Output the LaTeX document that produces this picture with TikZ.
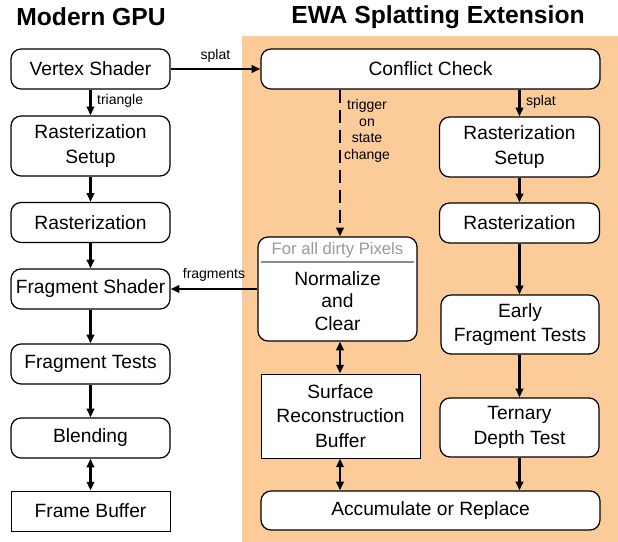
\documentclass[tikz,border=0pt]{standalone}
\usepackage{fontspec}
\setmainfont{Liberation Sans}
\usetikzlibrary{arrows.meta}
\definecolor{panel}{HTML}{FBCB99}
\definecolor{hdrgray}{HTML}{999999}
\begin{document}
\begin{tikzpicture}[x=0.75pt,y=-0.75pt,
  box/.style={draw=black,line width=0.9pt,fill=white,rounded corners=7.5pt,align=center,
    font=\fontsize{14.4}{18.5}\selectfont,inner sep=0pt,minimum width=119.25pt,minimum height=30pt},
  sqbox/.style={box,rounded corners=0pt,line width=0.75pt},
  flow/.style={line width=2pt,-{Triangle[length=6.5pt,width=5.5pt]}},
  bflow/.style={line width=2pt,{Triangle[length=6.5pt,width=5.5pt]}-{Triangle[length=6.5pt,width=5.5pt]}},
  lbl/.style={font=\fontsize{10.5}{12.5}\selectfont,inner sep=1pt,align=center},
  ttl/.style={font=\fontsize{18.5}{22}\selectfont\bfseries}]
\useasboundingbox (0,0) rectangle (618,542);
\fill[panel] (242,36) rectangle (618,542);
\node[ttl] (t1) at (91,17) {Modern GPU};
\node[ttl] (t2) at (438,17) {EWA Splatting Extension};
% left column
\node[box] (vs) at (90.5,69) {Vertex Shader};
\node[box,minimum height=45pt] (rs) at (90.5,146) {Rasterization\\Setup};
\node[box] (ra) at (90.5,222.5) {Rasterization};
\node[box] (fs) at (90.5,289) {Fragment Shader};
\node[box] (ft) at (90.5,364) {Fragment Tests};
\node[box] (bl) at (90.5,438) {Blending};
\node[sqbox] (fb) at (90.5,511) {Frame Buffer};
% right part
\node[box,minimum width=254.25pt] (cc) at (430.5,69) {Conflict Check};
\node[box,minimum height=45pt,minimum width=120pt] (rs2) at (519.5,147) {Rasterization\\Setup};
\node[box,minimum width=120pt] (ra2) at (519.5,223) {Rasterization};
\node[box,minimum height=44.25pt,minimum width=118.5pt] (ef) at (520,324.5) {Early\\Fragment Tests};
\node[box,minimum height=44.25pt,minimum width=119.25pt] (td) at (519.5,427.5) {Ternary\\Depth Test};
\node[box,minimum width=254.25pt,minimum height=29.25pt] (ar) at (430.5,510.5) {Accumulate or Replace};
\node[box,minimum height=78pt] (nc) at (337.5,289) {};
\node[font=\fontsize{12.5}{14}\selectfont,text=hdrgray,inner sep=0pt] (hd) at (337.5,250) {For all dirty Pixels};
\draw[line width=0.8pt,black!45] ([xshift=2.5pt]nc.west |- 0,262) coordinate (hl) -- ([xshift=-2.5pt]nc.east |- 0,262) coordinate (hr);
\node[align=center,font=\fontsize{14.4}{17}\selectfont,inner sep=0pt] (nct) at (337.5,301) {Normalize\\and\\Clear};
\node[sqbox,minimum height=63pt,minimum width=119.25pt] (sr) at (340.5,416) {Surface\\Reconstruction\\Buffer};
% connectors
\draw[flow] (vs.south) -- node[lbl,right=3pt,pos=0.45] {triangle} (rs.north);
\draw[flow] (rs.south) -- (ra.north);
\draw[flow] (ra.south) -- (fs.north);
\draw[flow] (fs.south) -- (ft.north);
\draw[flow] (ft.south) -- (bl.north);
\draw[bflow] (bl.south) -- (fb.north);
\draw[flow] (vs.east) -- node[lbl,above=3pt] {splat} (cc.west);
\draw[flow] (cc.south -| rs2) -- node[lbl,right=3pt,pos=0.45] {splat} (rs2.north);
\draw[flow] (rs2.south) -- (ra2.north);
\draw[flow] (ra2.south) -- (ef.north -| ra2);
\draw[flow] (ef.south -| ra2) -- (td.north -| ra2);
\draw[flow] (td.south -| ra2) -- (ar.north -| ra2);
\draw[flow,dash pattern=on 10pt off 5pt] (cc.south -| 340,0) -- (nc.north -| 340,0);
\node[lbl] (trg) at (367,131) {trigger\\on\\state\\change};
\draw[bflow] (nc.south -| 340,0) -- (sr.north -| 340,0);
\draw[bflow] (sr.south -| 340,0) -- (ar.north -| 340,0);
\draw[flow] (nc.west |- fs.east) -- node[lbl,above=4pt] {fragments} (fs.east);
\end{tikzpicture}
\end{document}
